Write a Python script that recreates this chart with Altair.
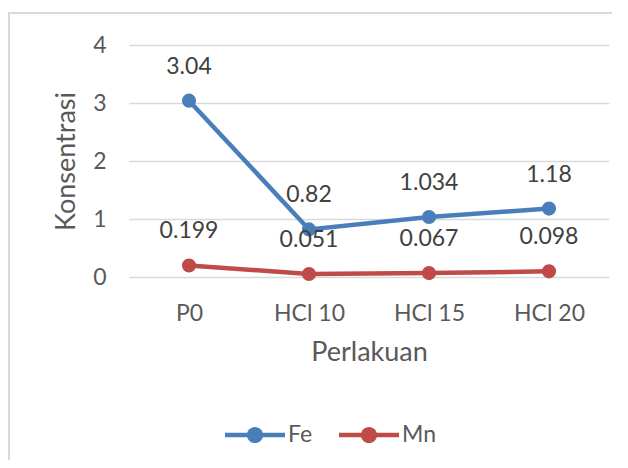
import altair as alt
import pandas as pd

categories = ["P0", "HCl 10", "HCl 15", "HCl 20"]
fe_values = [3.04, 0.82, 1.034, 1.18]
mn_values = [0.199, 0.051, 0.067, 0.098]
series_names = ["Fe", "Mn"]
series_colors = ["#4A7EBB", "#BE4B48"]
y_ticks = [0, 1, 2, 3, 4]

rows = []
for name, vals in zip(series_names, [fe_values, mn_values]):
    for c, v in zip(categories, vals):
        rows.append({"Seri": name, "Perlakuan": c, "Konsentrasi": v, "Label": str(v)})
df = pd.DataFrame(rows)

FONT = "Lato"
GRAY = "#595959"

x_enc = alt.X(
    "Perlakuan:N",
    sort=categories,
    scale=alt.Scale(type="point", padding=0.5),
    axis=alt.Axis(
        title="Perlakuan",
        labelAngle=0,
        domain=False,
        ticks=False,
        grid=False,
        labelPadding=25,
        labelFont=FONT,
        labelFontSize=23,
        labelColor=GRAY,
        titleFont=FONT,
        titleFontSize=27,
        titleFontWeight="normal",
        titleColor=GRAY,
        titleX=240,
        titleY=75,
        titleBaseline="middle",
    ),
)
y_enc = alt.Y(
    "Konsentrasi:Q",
    scale=alt.Scale(domain=[0, 4], nice=False),
    axis=alt.Axis(
        title="Konsentrasi",
        values=y_ticks,
        domain=False,
        ticks=False,
        grid=True,
        gridColor="#D9D9D9",
        gridWidth=1.3,
        labelPadding=23,
        labelFont=FONT,
        labelFontSize=23,
        labelColor=GRAY,
        titleFont=FONT,
        titleFontSize=27,
        titleFontWeight="normal",
        titleColor=GRAY,
        titleAngle=270,
        titleX=-63,
        titleY=116,
        titleBaseline="middle",
        titleAlign="center",
    ),
)
color_scale = alt.Scale(domain=series_names, range=series_colors)

legend_path = (
    "M-1,-0.075H1V0.075H-1Z "
    "M0.27,0A0.27,0.27,0,1,1,-0.27,0A0.27,0.27,0,1,1,0.27,0Z"
)

legend = alt.Legend(
    title=None,
    orient="none",
    legendX=96,
    legendY=360,
    direction="horizontal",
    symbolType=legend_path,
    symbolSize=3600,
    symbolStrokeWidth=0,
    symbolOpacity=1,
    labelFont=FONT,
    labelFontSize=23,
    labelColor=GRAY,
    labelOffset=3,
    columnPadding=26,
    padding=0,
)

base = alt.Chart(df)

line = base.mark_line(
    strokeWidth=4.5, point=alt.OverlayMarkDef(filled=True, size=200, opacity=1)
).encode(
    x=x_enc,
    y=y_enc,
    color=alt.Color("Seri:N", scale=color_scale, legend=legend),
)

labels = base.mark_text(dy=-34, fontSize=23, font=FONT, color="#404040").encode(
    x=x_enc, y=y_enc, text="Label:N"
)

border = alt.Chart(pd.DataFrame({"d": [0]})).mark_rect(
    fillOpacity=0, stroke="#D9D9D9", strokeWidth=2
).encode(
    x=alt.value(-120), x2=alt.value(700), y=alt.value(-32), y2=alt.value(500)
)

chart = (
    alt.layer(border, line, labels)
    .properties(
        width=480,
        height=232,
        autosize=alt.AutoSizeParams(type="none"),
        padding={"left": 121, "top": 37, "right": 3, "bottom": 183},
        background="white",
    )
    .configure_view(stroke=None)
)

chart.save("out.html", embed_options={"renderer": "svg", "actions": False})
